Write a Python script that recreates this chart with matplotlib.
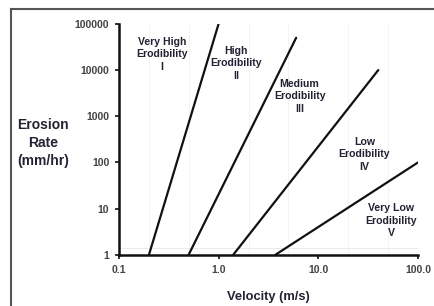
import matplotlib
matplotlib.use("Agg")
import matplotlib.pyplot as plt
from matplotlib.lines import Line2D

plt.rcParams["font.family"] = ["Liberation Sans", "DejaVu Sans"]

# erodibility boundary lines: (velocity start, velocity end), (rate start, rate end)
line_velocity = [[0.2, 1.0], [0.5, 6.0], [1.4, 40.0], [3.7, 100.0]]
line_rate = [[1, 100000], [1, 50000], [1, 10000], [1, 100]]

# zone labels and where they sit (velocity, rate)
zone_labels = [
    "Very High\nErodibility\nI",
    "High\nErodibility\nII",
    "Medium\nErodibility\nIII",
    "Low\nErodibility\nIV",
    "Very Low\nErodibility\nV",
]
zone_x = [0.27, 1.51, 6.5, 29.0, 54.0]
zone_y = [22000, 14000, 2700, 150, 5.5]

x_ticks = [0.1, 1.0, 10.0, 100.0]
x_tick_labels = ["0.1", "1.0", "10.0", "100.0"]
y_ticks = [1, 10, 100, 1000, 10000, 100000]
y_tick_labels = ["1", "10", "100", "1000", "10000", "100000"]

fig = plt.figure(figsize=(4.34, 3.06), dpi=100)
ax = fig.add_axes([0.274, 0.167, 0.689, 0.755])

# faint background grid like the scanned original
for v in [0.2, 0.5, 2, 5, 20, 50]:
    ax.axvline(v, color="#eef2f5", lw=0.6, zorder=0)
ax.axhline(1.4, color="#e6e6e6", lw=0.6, zorder=0)

for xs, ys in zip(line_velocity, line_rate):
    ax.plot(xs, ys, color="#111111", lw=1.6, solid_capstyle="round")

for lab, x, y in zip(zone_labels, zone_x, zone_y):
    ax.text(x, y, lab, ha="center", va="center", fontsize=7.6,
            fontweight="bold", color="#222233", linespacing=1.3)

ax.set_xscale("log")
ax.set_yscale("log")
ax.set_xlim(0.1, 100)
ax.set_ylim(1, 100000)
ax.set_xticks(x_ticks)
ax.set_xticklabels(x_tick_labels)
ax.set_yticks(y_ticks)
ax.set_yticklabels(y_tick_labels)
ax.minorticks_off()
ax.tick_params(axis="both", direction="out", length=3, width=1.2,
               labelsize=7.5, colors="#111111", pad=4)
for t in ax.get_xticklabels() + ax.get_yticklabels():
    t.set_fontweight("bold")
    t.set_color("#444444")

for side in ["top", "right"]:
    ax.spines[side].set_visible(False)
for side in ["left", "bottom"]:
    ax.spines[side].set_linewidth(1.8)
    ax.spines[side].set_color("#111111")

ax.set_xlabel("Velocity (m/s)", fontsize=9.3, fontweight="bold",
              color="#222233", labelpad=12)
fig.text(0.099, 0.533, "Erosion\nRate\n(mm/hr)", ha="center", va="center",
         fontsize=10, fontweight="bold", color="#222233", linespacing=1.35)

# outer frame of the scanned figure: only top and left edges show
fx, fy = 11 / 434, 1 - 9 / 306
fig.lines.append(Line2D([fx, 1.0], [fy, fy], transform=fig.transFigure,
                        color="#555555", lw=1.5))
fig.lines.append(Line2D([fx, fx], [0.0, fy], transform=fig.transFigure,
                        color="#555555", lw=1.5))

fig.savefig("out.png", dpi=100)
plt.close()
